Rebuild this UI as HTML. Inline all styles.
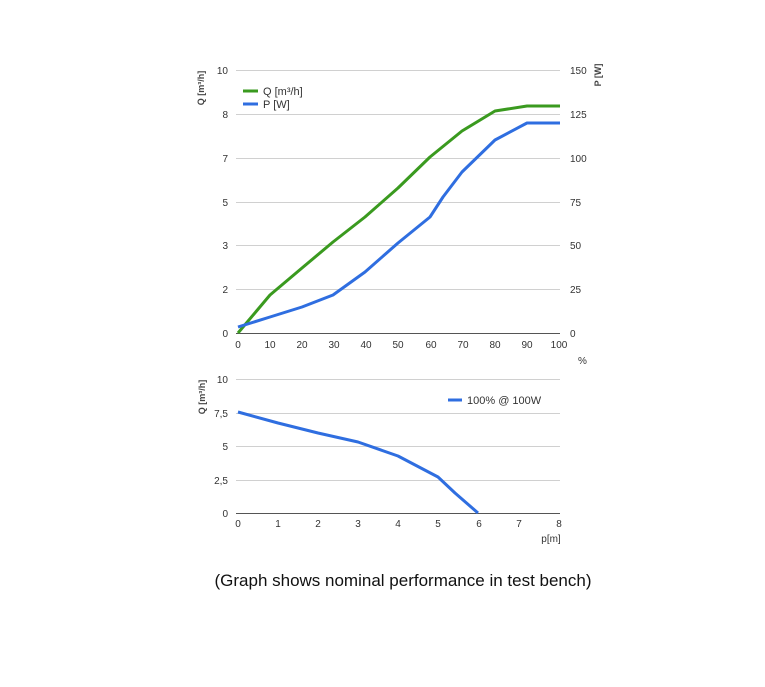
<!DOCTYPE html>
<html><head><style>body{margin:0;background:#fff}svg{display:block}</style></head>
<body>
<svg width="765" height="687" xmlns="http://www.w3.org/2000/svg" font-family="Liberation Sans, sans-serif" font-size="10" fill="#333">
<g stroke="#d0d0d0" stroke-width="1">
<line x1="236" x2="560" y1="70.5" y2="70.5"/><line x1="236" x2="560" y1="114.5" y2="114.5"/><line x1="236" x2="560" y1="158.5" y2="158.5"/><line x1="236" x2="560" y1="202.5" y2="202.5"/><line x1="236" x2="560" y1="245.5" y2="245.5"/><line x1="236" x2="560" y1="289.5" y2="289.5"/>
<line x1="236" x2="560" y1="379.5" y2="379.5"/><line x1="236" x2="560" y1="413.5" y2="413.5"/><line x1="236" x2="560" y1="446.5" y2="446.5"/><line x1="236" x2="560" y1="480.5" y2="480.5"/>
</g>
<line x1="236" x2="560" y1="333.5" y2="333.5" stroke="#555"/>
<line x1="236" x2="560" y1="513.5" y2="513.5" stroke="#555"/>
<g text-anchor="end">
<text x="228" y="74">10</text><text x="228" y="118">8</text><text x="228" y="162">7</text><text x="228" y="206">5</text><text x="228" y="249">3</text><text x="228" y="293">2</text><text x="228" y="337">0</text>
<text x="228" y="383">10</text><text x="228" y="417">7,5</text><text x="228" y="450">5</text><text x="228" y="484">2,5</text><text x="228" y="517">0</text>
</g>
<g>
<text x="570" y="74">150</text><text x="570" y="118">125</text><text x="570" y="162">100</text><text x="570" y="206">75</text><text x="570" y="249">50</text><text x="570" y="293">25</text><text x="570" y="337">0</text>
<text x="578" y="364">%</text>
</g>
<g text-anchor="middle">
<text x="238" y="348">0</text><text x="270" y="348">10</text><text x="302" y="348">20</text><text x="334" y="348">30</text><text x="366" y="348">40</text><text x="398" y="348">50</text><text x="431" y="348">60</text><text x="463" y="348">70</text><text x="495" y="348">80</text><text x="527" y="348">90</text><text x="559" y="348">100</text>
<text x="238" y="527">0</text><text x="278" y="527">1</text><text x="318" y="527">2</text><text x="358" y="527">3</text><text x="398" y="527">4</text><text x="438" y="527">5</text><text x="479" y="527">6</text><text x="519" y="527">7</text><text x="559" y="527">8</text>
<text x="551" y="542">p[m]</text>
</g>
<text transform="translate(204,88) rotate(-90)" text-anchor="middle" font-size="9" font-weight="bold" fill="#444">Q [m³/h]</text>
<text transform="translate(601,75) rotate(-90)" text-anchor="middle" font-size="9" font-weight="bold" fill="#444">P [W]</text>
<text transform="translate(205,397) rotate(-90)" text-anchor="middle" font-size="9" font-weight="bold" fill="#444">Q [m³/h]</text>
<polyline fill="none" stroke="#3a9a1f" stroke-width="3" stroke-linejoin="round" points="238,333 270,295 302,268 333,242 365,217 398,188 430,157 462,131 495,111 527,106 560,106"/>
<polyline fill="none" stroke="#2f6ee0" stroke-width="3" stroke-linejoin="round" points="238,327 270,317 302,307 333,295 365,272 398,243 430,217 443,197 462,172 495,140 527,123 560,123"/>
<polyline fill="none" stroke="#2f6ee0" stroke-width="3" stroke-linejoin="round" points="238,412 278,423 318,433 358,442 398,456 438,477 455,493 478,513"/>
<line x1="243" x2="258" y1="91" y2="91" stroke="#3a9a1f" stroke-width="3"/>
<line x1="243" x2="258" y1="104" y2="104" stroke="#2f6ee0" stroke-width="3"/>
<text x="263" y="95" font-size="11">Q [m³/h]</text>
<text x="263" y="108" font-size="11">P [W]</text>
<line x1="448" x2="462" y1="400" y2="400" stroke="#2f6ee0" stroke-width="3"/>
<text x="467" y="404" font-size="11">100% @ 100W</text>
<text x="403" y="586" text-anchor="middle" font-size="17" fill="#111">(Graph shows nominal performance in test bench)</text>
</svg>
</body></html>
